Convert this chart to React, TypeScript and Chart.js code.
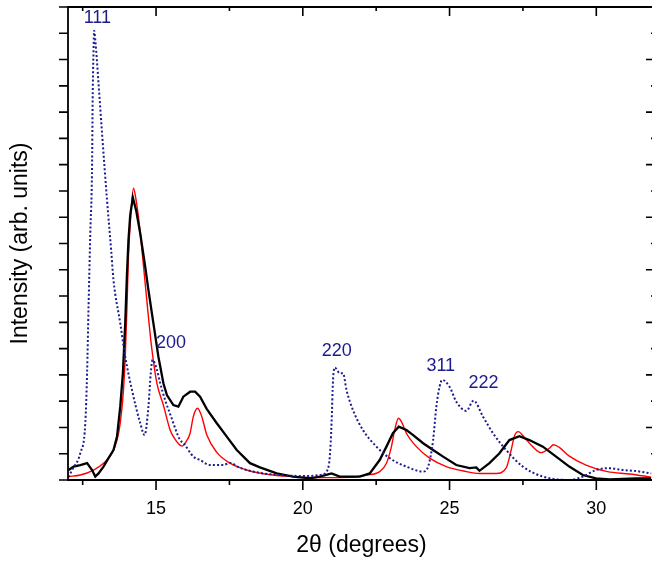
import React, { useEffect, useRef } from 'react';
import { Chart, registerables } from 'chart.js';

Chart.register(...registerables);

// ---- axis ranges / ticks ----
const X_MIN = 12;
const X_MAX = 32;
const Y_MIN = 0;
const Y_MAX = 18;
const xMajorTicks = [15, 20, 25, 30];
const xMinorTicks = [12.5, 17.5, 22.5, 27.5];
const yTicks = [0, 1, 2, 3, 4, 5, 6, 7, 8, 9, 10, 11, 12, 13, 14, 15, 16, 17, 18];

// ---- blue dotted series (reference pattern) ----
const blueX = [12.02, 12.14, 12.42, 12.59, 12.65, 12.70, 12.76, 12.82, 12.84, 12.87, 12.89, 12.93, 13.04, 13.16, 13.33, 13.47, 13.55, 13.78, 13.95, 14.18, 14.46, 14.61, 14.74, 14.82, 14.88, 15.03, 15.14, 15.31, 15.48, 15.82, 15.93, 16.27, 16.50, 16.84, 17.29, 17.52, 17.86, 18.54, 19.22, 20.13, 20.58, 20.81, 20.92, 20.98, 21.03, 21.09, 21.26, 21.37, 21.49, 21.71, 22.05, 22.51, 22.96, 23.53, 24.10, 24.27, 24.44, 24.55, 24.66, 24.75, 25.00, 25.23, 25.57, 25.82, 26.14, 26.48, 26.93, 27.50, 28.18, 29.08, 29.54, 29.99, 30.45, 30.90, 31.35, 31.87];
const blueY = [0.11, 0.38, 1.03, 2.17, 4.07, 6.59, 9.40, 11.92, 14.46, 16.36, 17.10, 16.74, 15.10, 13.19, 10.65, 8.75, 7.61, 5.97, 4.69, 3.42, 2.17, 1.71, 2.79, 4.07, 4.57, 4.19, 3.69, 3.04, 2.51, 1.52, 1.41, 0.89, 0.76, 0.57, 0.57, 0.65, 0.46, 0.27, 0.19, 0.15, 0.19, 0.32, 0.89, 2.17, 3.81, 4.28, 4.06, 4.06, 3.42, 2.66, 1.90, 1.27, 0.83, 0.51, 0.32, 0.51, 1.52, 2.79, 3.55, 3.81, 3.55, 2.98, 2.63, 3.02, 2.41, 1.78, 1.14, 0.51, 0.13, 0.0, 0.13, 0.38, 0.45, 0.38, 0.34, 0.25];

// ---- black measured series ----
const blackX = [12.02, 12.19, 12.42, 12.65, 12.82, 12.93, 13.04, 13.21, 13.38, 13.55, 13.67, 13.78, 13.87, 13.95, 14.01, 14.06, 14.12, 14.21, 14.32, 14.46, 14.63, 14.74, 14.91, 15.08, 15.25, 15.37, 15.59, 15.76, 15.93, 16.16, 16.33, 16.50, 16.73, 17.07, 17.41, 17.75, 18.20, 18.54, 19.11, 19.67, 20.24, 20.58, 20.98, 21.26, 21.94, 22.28, 22.62, 22.85, 23.07, 23.27, 23.53, 23.76, 24.10, 24.44, 24.78, 25.23, 25.68, 25.91, 26.02, 26.36, 26.70, 27.04, 27.38, 27.72, 28.18, 28.63, 29.08, 29.54, 29.99, 30.45, 31.35, 31.87];
const blackY = [0.38, 0.51, 0.57, 0.64, 0.38, 0.13, 0.25, 0.51, 0.83, 1.14, 1.65, 2.79, 4.06, 5.97, 7.88, 9.13, 10.08, 10.75, 10.27, 9.39, 8.12, 7.23, 5.96, 4.69, 3.68, 3.23, 2.85, 2.79, 3.17, 3.36, 3.36, 3.17, 2.70, 2.16, 1.65, 1.14, 0.64, 0.48, 0.25, 0.13, 0.06, 0.13, 0.25, 0.13, 0.13, 0.25, 0.76, 1.27, 1.78, 2.03, 1.90, 1.71, 1.40, 1.14, 0.89, 0.57, 0.45, 0.48, 0.35, 0.64, 1.02, 1.52, 1.67, 1.52, 1.27, 0.89, 0.51, 0.19, 0.06, 0.02, 0.06, 0.06];

// ---- red fitted series ----
const redX = [12.02, 12.42, 12.87, 13.21, 13.50, 13.67, 13.78, 13.89, 13.95, 14.01, 14.06, 14.14, 14.23, 14.32, 14.40, 14.52, 14.63, 14.74, 14.86, 15.03, 15.25, 15.48, 15.59, 15.88, 16.02, 16.16, 16.27, 16.41, 16.56, 16.73, 17.07, 17.52, 18.09, 18.77, 19.67, 20.58, 21.60, 22.17, 22.62, 22.85, 23.02, 23.13, 23.26, 23.36, 23.53, 23.87, 24.32, 24.89, 25.57, 26.02, 26.59, 26.93, 27.10, 27.21, 27.34, 27.55, 27.84, 28.12, 28.40, 28.54, 28.74, 29.08, 29.65, 30.38, 31.13, 31.87];
const redY = [0.13, 0.19, 0.38, 0.64, 1.02, 1.52, 2.16, 3.42, 4.69, 6.59, 8.50, 10.08, 11.10, 10.65, 10.02, 8.75, 7.48, 6.21, 4.95, 3.68, 2.85, 1.90, 1.65, 1.29, 1.45, 1.78, 2.41, 2.73, 2.41, 1.71, 1.05, 0.64, 0.38, 0.22, 0.13, 0.09, 0.10, 0.19, 0.32, 0.64, 1.27, 1.90, 2.35, 2.22, 1.78, 1.27, 0.83, 0.51, 0.32, 0.25, 0.25, 0.46, 1.14, 1.67, 1.84, 1.62, 1.26, 1.04, 1.21, 1.34, 1.24, 0.91, 0.57, 0.32, 0.23, 0.11];

// ---- reflection labels (anchored in data units) ----
const peakLabels = ['111', '200', '220', '311', '222'];
const peakLabelX = [13.0, 15.51, 21.16, 24.70, 26.16];
const peakLabelY = [17.58, 5.21, 4.91, 4.34, 3.69];

const FONT = "'Liberation Sans', Arial, Helvetica, sans-serif";
const NAVY = '#1b1b8f';

const toPoints = (xs: number[], ys: number[]) => xs.map((x, i) => ({ x, y: ys[i] }));

const framePlugin = {
  id: 'frameTicks',
  afterDatasetsDraw(chart: any) {
    const { ctx, chartArea, scales } = chart;
    const xs = scales.x;
    const ys = scales.y;
    const { left, right, top, bottom } = chartArea;
    ctx.save();
    ctx.strokeStyle = '#000';
    ctx.lineWidth = 1.8;
    ctx.lineCap = 'butt';
    ctx.beginPath();
    ctx.rect(left, top, right - left, bottom - top);
    ctx.stroke();
    ctx.lineWidth = 1.6;
    ctx.beginPath();
    // left ticks (outward) and right ticks (inward)
    yTicks.forEach((v) => {
      const py = ys.getPixelForValue(v);
      ctx.moveTo(left - 9, py);
      ctx.lineTo(left, py);
      const len = v % 2 === 0 ? 9 : 4;
      ctx.moveTo(right, py);
      ctx.lineTo(right - len, py);
    });
    // bottom (outward) & top (inward)
    xMajorTicks.forEach((v) => {
      const px = xs.getPixelForValue(v);
      ctx.moveTo(px, bottom);
      ctx.lineTo(px, bottom + 10);
      ctx.moveTo(px, top);
      ctx.lineTo(px, top + 9);
    });
    xMinorTicks.forEach((v) => {
      const px = xs.getPixelForValue(v);
      ctx.moveTo(px, bottom);
      ctx.lineTo(px, bottom + 5);
      ctx.moveTo(px, top);
      ctx.lineTo(px, top + 4);
    });
    ctx.stroke();
    // reflection labels
    ctx.fillStyle = NAVY;
    ctx.font = `18px ${FONT}`;
    ctx.textAlign = 'center';
    ctx.textBaseline = 'middle';
    peakLabels.forEach((t, i) => {
      ctx.fillText(t, xs.getPixelForValue(peakLabelX[i]), ys.getPixelForValue(peakLabelY[i]));
    });
    ctx.restore();
  },
};

export default function App() {
  const ref = useRef<HTMLCanvasElement | null>(null);
  useEffect(() => {
    if (!ref.current) return;
    const chart = new Chart(ref.current, {
      type: 'line',
      data: {
        datasets: [
          {
            label: 'pattern',
            data: toPoints(blueX, blueY),
            borderColor: NAVY,
            borderWidth: 2,
            borderDash: [2, 2.2],
            pointRadius: 0,
            fill: false,
            cubicInterpolationMode: 'monotone',
          },
          {
            label: 'measured',
            data: toPoints(blackX, blackY),
            borderColor: '#000000',
            borderWidth: 2.3,
            pointRadius: 0,
            fill: false,
            tension: 0,
          },
          {
            label: 'fit',
            data: toPoints(redX, redY),
            borderColor: '#ff0000',
            borderWidth: 1.4,
            pointRadius: 0,
            fill: false,
            cubicInterpolationMode: 'monotone',
          },
        ],
      },
      options: {
        animation: false,
        responsive: false,
        events: [],
        layout: { padding: { top: 7, right: 10, left: 0, bottom: 0 } },
        plugins: {
          legend: { display: false },
          tooltip: { enabled: false },
        },
        scales: {
          x: {
            type: 'linear',
            min: X_MIN,
            max: X_MAX,
            grid: { display: false, drawTicks: false },
            border: { display: false },
            afterBuildTicks: (s: any) => {
              s.ticks = xMajorTicks.map((v) => ({ value: v }));
            },
            afterFit: (s: any) => {
              s.height = 82;
            },
            ticks: {
              autoSkip: false,
              maxRotation: 0,
              padding: 18,
              color: '#000',
              font: { family: FONT, size: 18 },
            },
            title: {
              display: true,
              text: '2θ (degrees)',
              color: '#000',
              font: { family: FONT, size: 23 },
              padding: { top: 0, bottom: 3 },
            },
          },
          y: {
            type: 'linear',
            min: Y_MIN,
            max: Y_MAX,
            grid: { display: false, drawTicks: false },
            border: { display: false },
            ticks: { display: false },
            afterFit: (s: any) => {
              s.width = 68;
            },
            title: {
              display: true,
              text: 'Intensity (arb. units)',
              color: '#000',
              font: { family: FONT, size: 23 },
              padding: { top: 7, bottom: 0 },
            },
          },
        },
      },
      plugins: [framePlugin],
    });
    return () => chart.destroy();
  }, []);

  return (
    <div style={{ position: 'fixed', left: 0, top: 0, width: 652, height: 562, overflow: 'hidden', background: '#fff' }}>
      <canvas ref={ref} width={665} height={562} style={{ display: 'block' }} />
    </div>
  );
}
